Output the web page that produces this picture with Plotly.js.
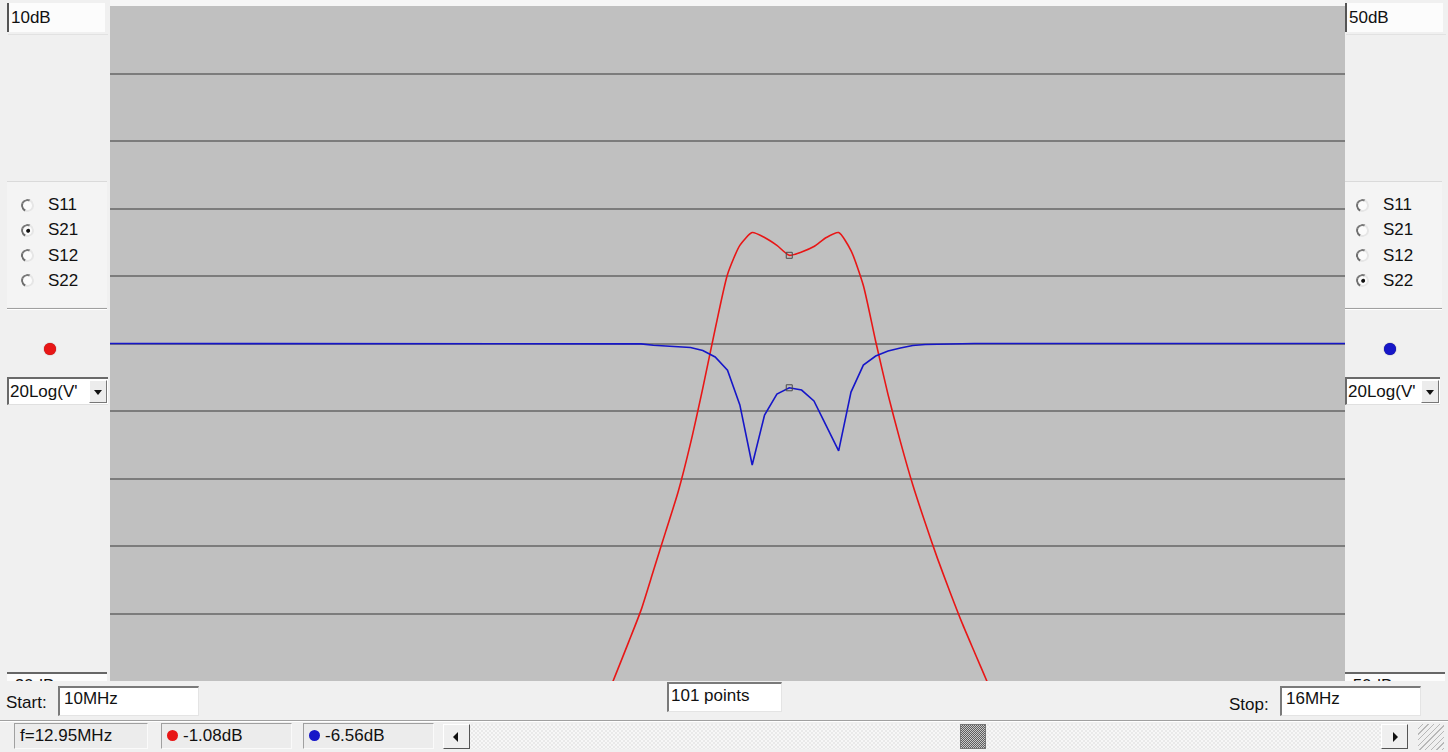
<!DOCTYPE html>
<html>
<head>
<meta charset="utf-8">
<script src="https://cdn.plot.ly/plotly-3.0.1.min.js"></script>
<style>
  html, body { margin:0; padding:0; }
  body { width:1448px; height:752px; overflow:hidden; background:#f0f0f0; position:relative;
         font-family:"Liberation Sans", Arial, sans-serif; font-size:17px; color:#111; }
  .abs { position:absolute; }
  .scalebox { position:absolute; background:#fcfcfc; border-left:2px solid #555; height:29px; width:98px; line-height:29px; padding-left:2px; box-sizing:border-box; overflow:hidden; }
  .sunken { position:absolute; background:#fff; box-sizing:border-box;
            border-top:2px solid #7a7a7a; border-left:2px solid #7a7a7a; border-right:1px solid #e4e4e4; border-bottom:1px solid #e4e4e4;
            padding-left:4px; overflow:hidden; white-space:nowrap; }
  .status { position:absolute; background:#ececec; box-sizing:border-box; height:26px; top:723px;
            border-top:1px solid #a0a0a0; border-left:1px solid #a0a0a0; border-right:1px solid #fafafa; border-bottom:1px solid #fafafa;
            line-height:24px; padding-left:5px; white-space:nowrap; overflow:hidden; }
  .radio { position:absolute; width:13px; height:13px; border-radius:50%; box-sizing:border-box;
           border:2px solid; border-color:#7a7a7a #e6e6e6 #e6e6e6 #6e6e6e; background:#fbfbfb; transform:rotate(-20deg); }
  .radio.on::after { content:""; position:absolute; left:2.5px; top:2.5px; width:4px; height:4px; border-radius:50%; background:#111; }
  .rlabel { position:absolute; line-height:18px; }
  .dot { position:absolute; width:12px; height:12px; border-radius:50%; }
  .dd { position:absolute; background:#fff; box-sizing:border-box; height:28px; top:377px;
        border-top:2px solid #6a6a6a; border-left:2px solid #6a6a6a; border-bottom:1px solid #e0e0e0; overflow:hidden; white-space:nowrap; line-height:25px; padding-left:1px; }
  .ddbtn { position:absolute; top:1px; right:1px; width:18px; height:23px; background:#ececec;
           border-right:1px solid #777; border-bottom:1px solid #777; border-top:1px solid #fff; border-left:1px solid #fff; box-sizing:border-box; }
  .ddbtn::after { content:""; position:absolute; left:4px; top:9px; border-left:4px solid transparent; border-right:4px solid transparent; border-top:5px solid #111; }
  .hline { position:absolute; height:1px; background:#a8a8a8; }
  .hline2 { position:absolute; height:1px; background:#ffffff; }
  .btn { position:absolute; top:724px; height:25px; width:27px; box-sizing:border-box; background:#efefef;
         border-top:1px solid #fff; border-left:1px solid #fff; border-right:1px solid #555; border-bottom:1px solid #555; }
  #plot { position:absolute; left:110px; top:6px; width:1235px; height:675px; }
</style>
</head>
<body>
<div id="ui"></div>
<div id="plot"></div>
<script>
// ---- sweep definition (from the instrument settings shown) ----
const SWEEP_START_MHZ = 10;
const SWEEP_STOP_MHZ = 16;
const SWEEP_POINTS = 101;

// ---- S21 trace, dB (left scale), one value per sweep point ----
const s21_dB = [
  -52.9, -52.6, -52.3, -52.0, -51.6, -51.2, -50.8, -50.4, -49.9, -49.4,
  -48.9, -48.4, -47.8, -47.2, -46.6, -46.0, -45.3, -44.6, -43.9, -43.2,
  -42.4, -41.6, -40.8, -40.0, -39.1, -38.2, -37.3, -36.3, -35.3, -34.3,
  -33.2, -32.1, -31.0, -29.8, -28.6, -27.4, -26.2, -24.9, -23.6, -22.3,
  -21.0, -19.64, -18.26, -16.85, -15.1, -13.35, -11.6, -9.45, -6.98, -4.36,
  -1.93, -0.64, -0.07, -0.29, -0.64, -1.08, -0.93, -0.69, -0.29, -0.07,
  -0.87, -2.42, -4.91, -7.27, -9.36, -11.28, -12.96, -14.55, -16.02, -17.43,
  -18.72, -20.0, -21.3, -22.5, -23.7, -24.8, -25.9, -26.9, -27.9, -28.8,
  -29.7, -30.6, -31.4, -32.2, -33.0, -33.7, -34.4, -35.1, -35.7, -36.3,
  -36.9, -37.5, -38.0, -38.5, -39.0, -39.5, -39.9, -40.3, -40.7, -41.1, -41.4
];

// ---- S22 trace, dB (right scale) ----
const s22_dB = [
  0, 0, 0, 0, 0, 0, 0, 0, 0, 0,
  0, 0, 0, 0, 0, 0, 0, 0, 0, 0,
  0, 0, 0, 0, 0, 0, 0, 0, 0, 0,
  0, 0, 0, 0, 0, 0, 0, 0, 0, 0,
  0, 0, 0, -0.05, -0.25, -0.33, -0.44, -0.6, -1.04, -2.0,
  -3.95, -9.1, -18.0, -10.6, -7.5, -6.56, -6.9, -8.5, -12.2, -15.9,
  -7.2, -3.2, -1.85, -1.1, -0.67, -0.3, -0.15, -0.1, 0, 0,
  0, 0, 0, 0, 0, 0, 0, 0, 0, 0,
  0, 0, 0, 0, 0, 0, 0, 0, 0, 0,
  0, 0, 0, 0, 0, 0, 0, 0, 0, 0, 0
];

const MARKER_INDEX = 55;

// ---- scales ----
const LEFT_SCALE = { top: 10, perDiv: 3, divs: 10 };
const RIGHT_SCALE = { top: 50, perDiv: 10, divs: 10 };

// ---- texts ----
const LEFT_TOP_LABEL = "10dB";
const LEFT_BOTTOM_LABEL = "-20dB";
const RIGHT_TOP_LABEL = "50dB";
const RIGHT_BOTTOM_LABEL = "-50dB";
const PARAM_NAMES = ["S11", "S21", "S12", "S22"];
const LEFT_SELECTED = "S21";
const RIGHT_SELECTED = "S22";
const FORMAT_LABEL = "20Log(V'";
const START_LABEL = "Start:";
const START_VALUE = "10MHz";
const STOP_LABEL = "Stop:";
const STOP_VALUE = "16MHz";
const POINTS_LABEL = "101 points";
const STATUS_FREQ = "f=12.95MHz";
const STATUS_S21 = "-1.08dB";
const STATUS_S22 = "-6.56dB";

const RED = "rgb(232,22,22)";
const BLUE = "rgb(22,22,200)";

// ---------------- UI ----------------
const ui = document.getElementById('ui');
function el(cls, style, html) {
  const d = document.createElement('div');
  if (cls) d.className = cls;
  Object.assign(d.style, style || {});
  if (html !== undefined) d.textContent = html;
  ui.appendChild(d);
  return d;
}
// top strip over plot column
el('abs', {left:'110px', top:'0px', width:'1235px', height:'6px', background:'#f6f6f6'});

// scale labels
el('scalebox', {left:'7px', top:'3px'}, LEFT_TOP_LABEL);
el('scalebox', {left:'1345px', top:'3px'}, RIGHT_TOP_LABEL);
el('hline', {left:'8px', top:'34px', width:'100px', background:'#e2e2e2'});
el('hline', {left:'1346px', top:'34px', width:'100px', background:'#e2e2e2'});

// radio groups
function radioGroup(x0, selected) {
  el('hline', {left:(x0-20)+'px', top:'181px', width:'100px', background:'#dadada'});
  el('abs', {left:(x0-20)+'px', top:'182px', width:'100px', height:'125px', background:'#f4f4f4'});
  PARAM_NAMES.forEach((n, i) => {
    const cy = 205 + i * 25.3;
    el('radio' + (n === selected ? ' on' : ''), {left:(x0 - 6.5)+'px', top:(cy - 6.5)+'px'});
    el('rlabel', {left:(x0 + 21)+'px', top:(cy - 9)+'px'}, n);
  });
  el('hline', {left:(x0-20)+'px', top:'308px', width:'100px', background:'#a0a0a0'});
  el('hline2', {left:(x0-20)+'px', top:'309px', width:'100px'});
}
radioGroup(27, LEFT_SELECTED);
radioGroup(1362, RIGHT_SELECTED);

// colour dots
el('dot', {left:'44px', top:'343px', background:RED, boxShadow:'0 0 1px #700'});
el('dot', {left:'1384px', top:'343px', background:BLUE, boxShadow:'0 0 1px #004'});

// dropdowns
function dropdown(x, w) {
  const d = el('dd', {left:x+'px', width:w+'px'});
  d.textContent = FORMAT_LABEL;
  const b = document.createElement('div'); b.className = 'ddbtn'; d.appendChild(b);
}
dropdown(7, 101);
dropdown(1345, 95);

// clipped bottom scale labels (partly hidden behind the lower panel, as in the original)
function bottomLabel(x, txt) {
  const d = el('abs', {left:x+'px', top:'672px', width:'100px', height:'9px', overflow:'hidden',
                     borderTop:'2px solid #666', background:'#fcfcfc', boxSizing:'border-box'});
  const t = document.createElement('div');
  Object.assign(t.style, {position:'absolute', left:'2px', top:'3px', lineHeight:'17px'});
  t.textContent = txt; d.appendChild(t);
}
bottomLabel(7, LEFT_BOTTOM_LABEL);
bottomLabel(1345, RIGHT_BOTTOM_LABEL);

// bottom bar
el('abs', {left:'6px', top:'693px', lineHeight:'20px'}, START_LABEL);
el('sunken', {left:'58px', top:'686px', width:'141px', height:'30px', lineHeight:'22px'}, START_VALUE);
el('sunken', {left:'667px', top:'682px', width:'115px', height:'30px', lineHeight:'24px', paddingLeft:'2px'}, POINTS_LABEL);
el('abs', {left:'1229px', top:'695px', lineHeight:'20px'}, STOP_LABEL);
el('sunken', {left:'1280px', top:'686px', width:'141px', height:'30px', lineHeight:'22px'}, STOP_VALUE);

el('hline', {left:'0px', top:'720px', width:'1448px', background:'#a0a0a0'});
el('hline2', {left:'0px', top:'721px', width:'1448px'});

el('status', {left:'14px', width:'134px'}, STATUS_FREQ);
el('status', {left:'161px', width:'131px', paddingLeft:'21px'}, STATUS_S21);
el('status', {left:'303px', width:'131px', paddingLeft:'21px'}, STATUS_S22);
el('dot', {left:'167px', top:'730px', width:'11px', height:'11px', background:RED});
el('dot', {left:'309px', top:'730px', width:'11px', height:'11px', background:BLUE});

// scrollbar
el('abs', {left:'443px', top:'724px', width:'965px', height:'25px',
           background:'repeating-conic-gradient(#f7f7f7 0% 25%, #e9e9e9 0% 50%) 0 0 / 4px 4px'});
const lb = el('btn', {left:'443px'});
lb.innerHTML = '<div style="position:absolute;left:9px;top:7px;border-top:5px solid transparent;border-bottom:5px solid transparent;border-right:5px solid #111;"></div>';
const rb = el('btn', {left:'1381px'});
rb.innerHTML = '<div style="position:absolute;left:11px;top:7px;border-top:5px solid transparent;border-bottom:5px solid transparent;border-left:5px solid #111;"></div>';
el('abs', {left:'960px', top:'724px', width:'26px', height:'25px', boxSizing:'border-box',
           border:'1px solid #777', background:'repeating-conic-gradient(#5e5e5e 0% 25%, #c8c8c8 0% 50%) 0 0 / 2px 2px'});
el('abs', {left:'1418px', top:'724px', width:'26px', height:'26px',
           background:'repeating-linear-gradient(135deg, #f0f0f0 0 3px, #b8b8b8 3px 4px)'});

// ---------------- PLOT ----------------
const freq = [];
for (let i = 0; i < SWEEP_POINTS; i++) {
  freq.push(SWEEP_START_MHZ + i * (SWEEP_STOP_MHZ - SWEEP_START_MHZ) / (SWEEP_POINTS - 1));
}
const leftBottom = LEFT_SCALE.top - LEFT_SCALE.perDiv * LEFT_SCALE.divs;
const rightBottom = RIGHT_SCALE.top - RIGHT_SCALE.perDiv * RIGHT_SCALE.divs;
const gridVals = [];
for (let k = 1; k < LEFT_SCALE.divs; k++) gridVals.push(leftBottom + k * LEFT_SCALE.perDiv);

const traces = [
  { x: freq, y: s21_dB, type: 'scatter', mode: 'lines', yaxis: 'y',
    line: { color: RED, width: 1.6, shape: 'spline', smoothing: 0.6 }, hoverinfo: 'skip' },
  { x: freq, y: s22_dB, type: 'scatter', mode: 'lines', yaxis: 'y2',
    line: { color: BLUE, width: 1.6 }, hoverinfo: 'skip' },
  { x: [freq[MARKER_INDEX]], y: [s21_dB[MARKER_INDEX]], type: 'scatter', mode: 'markers', yaxis: 'y',
    marker: { symbol: 'square-open', size: 6, color: '#4a4a4a', line: { width: 1 } }, hoverinfo: 'skip' },
  { x: [freq[MARKER_INDEX]], y: [s22_dB[MARKER_INDEX]], type: 'scatter', mode: 'markers', yaxis: 'y2',
    marker: { symbol: 'square-open', size: 6, color: '#4a4a4a', line: { width: 1 } }, hoverinfo: 'skip' }
];

const layout = {
  width: 1235, height: 675,
  margin: { l: 0, r: 0, t: 0, b: 0, pad: 0 },
  paper_bgcolor: '#c0c0c0', plot_bgcolor: '#c0c0c0',
  showlegend: false,
  xaxis: { range: [SWEEP_START_MHZ, SWEEP_STOP_MHZ], showgrid: false, zeroline: false,
           showticklabels: false, ticks: '', showline: false, fixedrange: true },
  yaxis: { range: [leftBottom, LEFT_SCALE.top], tickvals: gridVals, showgrid: true,
           gridcolor: '#7c7c7c', gridwidth: 2, zeroline: false, showticklabels: false,
           ticks: '', showline: false, fixedrange: true },
  yaxis2: { range: [rightBottom, RIGHT_SCALE.top], overlaying: 'y', side: 'right',
            showgrid: false, zeroline: false, showticklabels: false, ticks: '', showline: false, fixedrange: true }
};

Plotly.newPlot('plot', traces, layout, { staticPlot: true, displayModeBar: false });
</script>
</body>
</html>
